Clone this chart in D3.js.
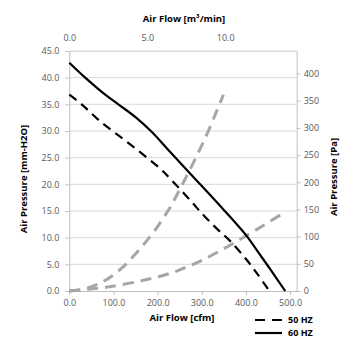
<!DOCTYPE html>
<html><head><meta charset="utf-8">
<script src="https://cdn.jsdelivr.net/npm/d3@7"></script>
<style>
html,body{margin:0;padding:0;background:#fff;}
svg{display:block;font-family:"Open Sans",sans-serif;}
</style></head>
<body>
<svg id="c" width="355" height="355"></svg>
<script>
// Fan curves (Air Flow in cfm, Air Pressure in mm-H2O)
const flow60 = [0, 36, 77, 111, 150, 187, 228, 274, 349, 402, 425, 455, 489];
const press60 = [42.8, 40.0, 37.1, 35.0, 32.6, 29.8, 26.1, 22.0, 15.3, 10.3, 7.6, 4.1, 0];
const flow50 = [0, 28, 70, 130, 205, 228, 277, 304, 334, 364, 402, 425, 453];
const press50 = [36.8, 35.0, 31.8, 28.0, 23.0, 21.1, 16.7, 14.2, 11.7, 9.4, 5.8, 3.3, 0];
// System impedance curves
const flowSysA = [0, 39, 77, 115, 183, 221, 232, 304, 349];
const pressSysA = [0, 0.5, 1.8, 4.0, 10.2, 14.7, 16.2, 28.0, 36.8];
const flowSysB = [0, 39, 92, 168, 228, 251, 304, 379, 479];
const pressSysB = [0, 0.3, 0.8, 2.0, 3.3, 4.0, 5.9, 9.3, 14.3];
// Axis ticks
const cfmTicks = [0, 100, 200, 300, 400, 500];
const m3Ticks = [0, 5, 10];
const mmTicks = [0, 5, 10, 15, 20, 25, 30, 35, 40, 45];
const paTicks = [0, 50, 100, 150, 200, 250, 300, 350, 400];
const legendLabels = ["50 HZ", "60 HZ"];

const CFM_PER_M3MIN = 35.3147;
const PA_PER_MM = 9.80665;
const cfmMax = 515, mmMax = 45;

const svg = d3.select("#c");
const L = 69.3, R = 296.7, T = 51, B = 291;
const x = d3.scaleLinear().domain([0, cfmMax]).range([L, R]);
const xTop = d3.scaleLinear().domain([0, cfmMax / CFM_PER_M3MIN]).range([L, R]);
const y = d3.scaleLinear().domain([0, mmMax]).range([B, T]);
const yPa = d3.scaleLinear().domain([0, mmMax * PA_PER_MM]).range([B, T]);

const tickColor = "#595959", axisColor = "#bfbfbf", gridColor = "#d9d9d9";

// gridlines
svg.append("g").selectAll("line").data(mmTicks.filter(d => d > 0)).join("line")
  .attr("x1", L).attr("x2", R).attr("y1", d => y(d)).attr("y2", d => y(d))
  .attr("stroke", gridColor).attr("stroke-width", 1);

function style(g) {
  g.select(".domain").attr("stroke", axisColor).attr("stroke-width", 1);
  g.selectAll(".tick line").attr("stroke", axisColor);
  g.selectAll(".tick text").attr("fill", tickColor).style("font-size", "9px").style("font-family", '"Open Sans",sans-serif');
}

svg.append("g").attr("transform", `translate(${L},0)`)
  .call(d3.axisLeft(y).tickValues(mmTicks).tickFormat(d3.format(".1f")).tickSize(4).tickSizeOuter(0).tickPadding(6))
  .call(style);
svg.append("g").attr("transform", `translate(${R},0)`)
  .call(d3.axisRight(yPa).tickValues(paTicks).tickFormat(d3.format("d")).tickSize(4).tickSizeOuter(0).tickPadding(3))
  .call(style);
svg.append("g").attr("transform", `translate(0,${B})`)
  .call(d3.axisBottom(x).tickValues(cfmTicks).tickFormat(d3.format(".1f")).tickSize(4).tickSizeOuter(0).tickPadding(5))
  .call(style);
svg.append("g").attr("transform", `translate(0,${T})`)
  .call(d3.axisTop(xTop).tickValues(m3Ticks).tickFormat(d3.format(".1f")).tickSize(0).tickSizeOuter(0).tickPadding(10))
  .call(style)
  .call(g => g.select(".domain").attr("stroke", gridColor));

const line = d3.line().x(d => x(d[0])).y(d => y(d[1])).curve(d3.curveCatmullRom.alpha(0.5));
const pts = (a, b) => a.map((v, i) => [v, b[i]]);

svg.append("path").datum(pts(flowSysA, pressSysA)).attr("d", line)
  .attr("fill", "none").attr("stroke", "#a6a6a6").attr("stroke-width", 3).attr("stroke-dasharray", "11,7");
svg.append("path").datum(pts(flowSysB, pressSysB)).attr("d", line)
  .attr("fill", "none").attr("stroke", "#a6a6a6").attr("stroke-width", 3).attr("stroke-dasharray", "11,7");
svg.append("path").datum(pts(flow50, press50)).attr("d", line)
  .attr("fill", "none").attr("stroke", "#000").attr("stroke-width", 2.2).attr("stroke-dasharray", "9,6");
svg.append("path").datum(pts(flow60, press60)).attr("d", line)
  .attr("fill", "none").attr("stroke", "#000").attr("stroke-width", 2.2);

// titles
const tfont = g => g.style("font-size", "9.5px").style("font-weight", "bold").attr("fill", "#000").style("font-family", '"Open Sans",sans-serif');
svg.append("text").attr("x", 184).attr("y", 22).attr("text-anchor", "middle").text("Air Flow [m³/min]").call(tfont);
svg.append("text").attr("x", 182).attr("y", 321).attr("text-anchor", "middle").text("Air Flow [cfm]").call(tfont);
svg.append("text").attr("transform", "translate(27,179) rotate(-90)").attr("text-anchor", "middle").text("Air Pressure [mm-H2O]").call(tfont);
svg.append("text").attr("transform", "translate(337,177) rotate(-90)").attr("text-anchor", "middle").text("Air Pressure [Pa]").call(tfont);

// legend
const lg = svg.append("g");
legendLabels.forEach((lab, i) => {
  const ly = 320 + i * 13;
  lg.append("line").attr("x1", 255).attr("x2", 282).attr("y1", ly).attr("y2", ly)
    .attr("stroke", "#000").attr("stroke-width", 2.2).attr("stroke-dasharray", i === 0 ? "10,7" : null);
  lg.append("text").attr("x", 288).attr("y", ly + 3.3).text(lab)
    .style("font-size", "9px").style("font-weight", "bold").attr("fill", "#000").style("font-family", '"Open Sans",sans-serif');
});
</script>
</body></html>
